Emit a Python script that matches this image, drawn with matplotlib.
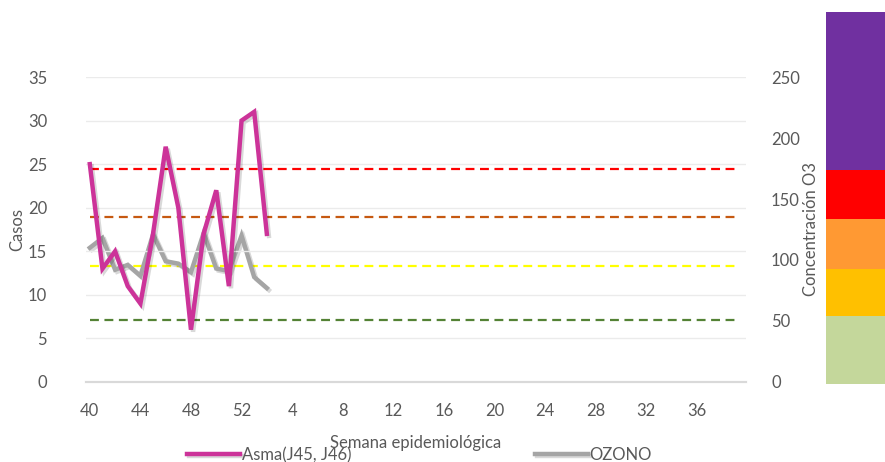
import numpy as np
import matplotlib.pyplot as plt
import matplotlib.patheffects as pe

plt.rcParams['font.family'] = ['Lato', 'DejaVu Sans']

# semanas epidemiológicas (40 a 52, luego 1 a 39)
semanas = [40, 41, 42, 43, 44, 45, 46, 47, 48, 49, 50, 51, 52,
           1, 2, 3, 4, 5, 6, 7, 8, 9, 10, 11, 12, 13, 14, 15, 16, 17, 18, 19, 20,
           21, 22, 23, 24, 25, 26, 27, 28, 29, 30, 31, 32, 33, 34, 35, 36, 37, 38, 39]

# casos de asma (eje izquierdo)
asma = [25, 13, 15, 11, 9, 17, 27, 20, 6, 17, 22, 11, 30, 31, 17]
# concentración de ozono (eje derecho)
ozono = [110, 118, 92, 96, 87, 121, 99, 97, 90, 122, 93, 91, 120, 86, 77]

# límites de calidad del aire para O3
limites = [51, 95, 135, 175]
colores_limites = ['#548235', '#FFFF00', '#C65911', '#FF0000']

# barra de colores a la derecha
bandas = [0, 55, 94, 134, 174, 303]
colores_bandas = ['#C4D79B', '#FFC000', '#FF9933', '#FF0000', '#7030A0']

n = len(semanas)
x = np.arange(n)

fig = plt.figure(figsize=(8.85, 4.62), dpi=100)

# barra de colores de calidad del aire (detrás del texto)
axb = fig.add_axes([826 / 885, 1 - 384 / 462, 59 / 885, 372 / 462])
for i, color in enumerate(colores_bandas):
    axb.bar(0, bandas[i + 1] - bandas[i], bottom=bandas[i], width=1, color=color)
axb.set_xlim(-0.5, 0.5)
axb.set_ylim(bandas[0], bandas[-1])
axb.axis('off')

ax = fig.add_axes([0.0972, 0.1732, 0.7458, 0.6601])
ax2 = ax.twinx()

sombra = [pe.SimpleLineShadow(offset=(1.5, -1.5), alpha=0.15, rho=0.3), pe.Normal()]

for valor, color in zip(limites, colores_limites):
    ax2.plot(x, [valor] * n, color=color, lw=1.6, ls=(0, (4, 2.5)), zorder=2)

ax.plot(x[:len(asma)], asma, color='#CC3399', lw=3.2, solid_joinstyle='miter',
        path_effects=sombra, zorder=3, label='Asma(J45, J46)')
ax2.plot(x[:len(ozono)], ozono, color='#A5A5A5', lw=3.2, solid_joinstyle='miter',
         path_effects=sombra, zorder=4, label='OZONO')

ax.set_zorder(ax2.get_zorder() + 1)
ax.patch.set_visible(False)

ax.set_xlim(-0.3, 51.9)
ax.set_ylim(0, 35)
ax.set_yticks(np.arange(0, 36, 5))
ax2.set_ylim(0, 250)
ax2.set_yticks(np.arange(0, 251, 50))
ax.set_xticks(x[::4])
ax.set_xticklabels([str(s) for s in semanas[::4]])

ax.grid(axis='y', color='#EBEBEB', lw=1)
ax.set_axisbelow(True)
for a in (ax, ax2):
    for s in ['top', 'left', 'right']:
        a.spines[s].set_visible(False)
    a.spines['bottom'].set_color('#D9D9D9')
    a.spines['bottom'].set_linewidth(1.5)
    a.tick_params(length=0, labelsize=12, labelcolor='#595959')
ax.tick_params(axis='y', pad=28)
ax.tick_params(axis='x', pad=15)
ax2.tick_params(axis='y', pad=18)

ax.set_ylabel('Casos', fontsize=12, color='#595959', labelpad=2)
ax2.set_ylabel('Concentración O3', fontsize=12, color='#595959', labelpad=2)
ax.set_xlabel('Semana epidemiológica', fontsize=12, color='#595959', labelpad=12)

h1, l1 = ax.get_legend_handles_labels()
h2, l2 = ax2.get_legend_handles_labels()
fig.legend(h1 + h2, l1 + l2, loc='center', bbox_to_anchor=(0.474, 0.015), ncol=2,
           frameon=False, fontsize=12, labelcolor='#595959', handlelength=3.2,
           handletextpad=0.1, columnspacing=11)

fig.savefig('out.png', dpi=100)
